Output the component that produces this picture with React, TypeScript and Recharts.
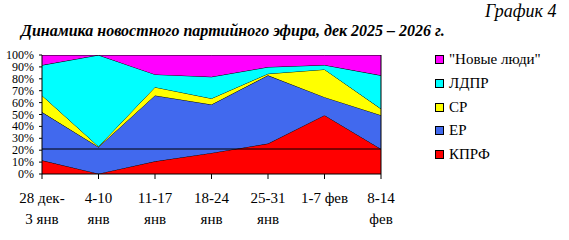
import React from 'react';
import { AreaChart, Area, XAxis, YAxis, ReferenceLine } from 'recharts';

const categories = ["28 дек-\n3 янв", "4-10\nянв", "11-17\nянв", "18-24\nянв", "25-31\nянв", "1-7 фев", "8-14\nфев"];
const kprf = [11.5, 0.3, 10.7, 17.7, 25.6, 49.4, 21];
const er = [40.5, 22.4, 55.3, 40.7, 57.3, 15.2, 28.4];
const sr = [14, 0.5, 7, 5.1, 1.4, 23.3, 5.4];
const ldpr = [25.5, 76.8, 10.7, 18.2, 5.6, 3.7, 28.1];
const nl = [8.5, 0, 16.3, 18.3, 10.1, 8.4, 17.1];
const yTicks = [0, 10, 20, 30, 40, 50, 60, 70, 80, 90, 100];
const refLevel = 21;

const series = [
  { key: 'kprf', name: 'КПРФ', color: '#FF0000', values: kprf },
  { key: 'er', name: 'ЕР', color: '#4169EE', values: er },
  { key: 'sr', name: 'СР', color: '#FFFF00', values: sr },
  { key: 'ldpr', name: 'ЛДПР', color: '#00FFFF', values: ldpr },
  { key: 'nl', name: '"Новые люди"', color: '#FF00FF', values: nl },
];

const data = categories.map((c, i) => {
  const row: any = { cat: c };
  series.forEach(s => { row[s.key] = s.values[i]; });
  return row;
});

const FONT = '"Liberation Serif", "Times New Roman", serif';

const XTick = (props: any) => {
  const { x, y, payload } = props;
  const lines = String(payload.value).split('\n');
  return (
    <text x={x} y={y + 22} textAnchor="middle" fontFamily={FONT} fontSize={15} fill="#000">
      {lines.map((l, i) => (
        <tspan key={i} x={x} dy={i === 0 ? 0 : 21}>{l}</tspan>
      ))}
    </text>
  );
};

const YTick = (props: any) => {
  const { x, y, payload } = props;
  return (
    <text x={x} y={y + 4} textAnchor="end" fontFamily={FONT} fontSize={12} fill="#000">{`${payload.value}%`}</text>
  );
};

export default function App() {
  return (
    <div style={{ position: 'absolute', left: 0, top: 0, width: 569, height: 240, background: '#fff' }}>
      <div style={{ position: 'absolute', left: 485, top: 0, fontFamily: FONT, fontStyle: 'italic', fontSize: 18, lineHeight: '22px', whiteSpace: 'nowrap' }}>График 4</div>
      <div style={{ position: 'absolute', left: 21, top: 22, fontFamily: FONT, fontStyle: 'italic', fontWeight: 'bold', fontSize: 16, lineHeight: '18px', whiteSpace: 'nowrap' }}>Динамика новостного партийного эфира, дек 2025 – 2026 г.</div>
      <div style={{ position: 'absolute', left: 435, top: 48, fontFamily: FONT, fontSize: 15, color: '#000' }}>
        {[...series].reverse().map(s => (
          <div key={s.key} style={{ display: 'flex', alignItems: 'center', height: 23.7 }}>
            <span style={{ display: 'inline-block', width: 7, height: 7, background: s.color, border: '1px solid #000', marginRight: 5 }} />
            <span>{s.name}</span>
          </div>
        ))}
      </div>
      <AreaChart width={569} height={240} data={data} margin={{ top: 55, right: 188, bottom: 6, left: 2 }} style={{ position: 'absolute', left: 0, top: 0 }}>
        <XAxis dataKey="cat" height={60} tick={<XTick />} tickSize={5} axisLine={{ stroke: '#000' }} tickLine={{ stroke: '#000' }} interval={0} />
        <YAxis width={40} domain={[0, 100]} ticks={yTicks} interval={0} allowDataOverflow tickSize={3} tickMargin={5}
          tick={<YTick />} axisLine={{ stroke: '#000' }} tickLine={{ stroke: '#000' }} />
        {series.map(s => (
          <Area key={s.key} type="linear" dataKey={s.key} name={s.name} stackId="a" fill={s.color} fillOpacity={1} stroke="#000" strokeWidth={1} isAnimationActive={false} dot={false} activeDot={false} />
        ))}
        <ReferenceLine y={refLevel} stroke="#000" strokeWidth={1} />
        <ReferenceLine x={categories[categories.length - 1]} stroke="#000" strokeWidth={1} />
      </AreaChart>
    </div>
  );
}
